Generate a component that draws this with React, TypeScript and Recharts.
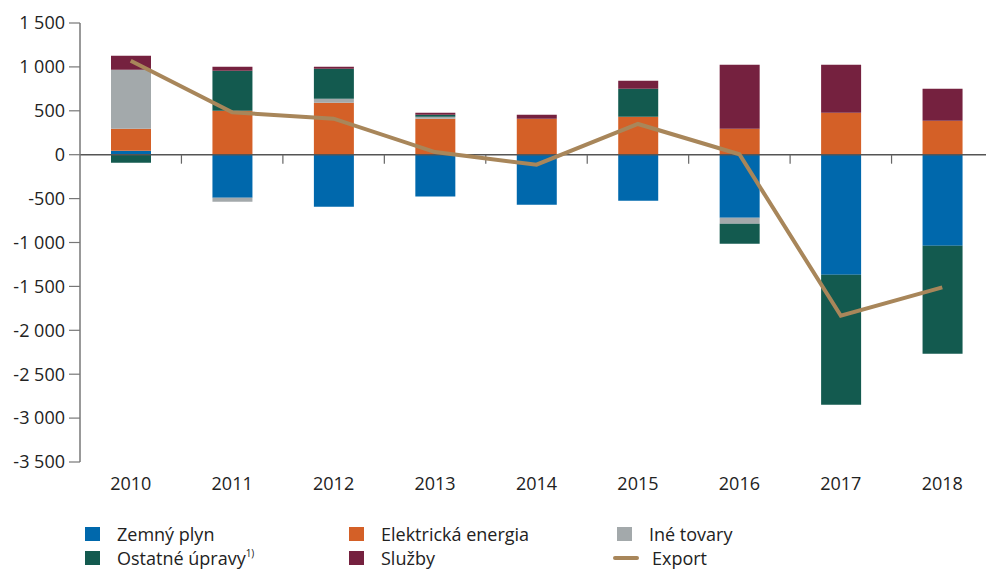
import React from 'react';
import { ComposedChart, Bar, Line, XAxis, YAxis, ReferenceLine } from 'recharts';

const years = ['2010', '2011', '2012', '2013', '2014', '2015', '2016', '2017', '2018'];
const zemnyPlyn = [45, -490, -592, -475, -569, -524, -718, -1367, -1036];
const elektrickaEnergia = [250, 500, 592, 410, 410, 433, 296, 478, 387];
const ineTovary = [672, -45, 46, 23, 0, 0, -68, 0, 0];
const ostatneUpravy = [-91, 457, 341, 23, 0, 319, -228, -1480, -1230];
const sluzby = [160, 45, 23, 22, 46, 91, 729, 547, 365];
const exportValues = [1070, 482, 410, 30, -114, 350, 5, -1834, -1511];
const yTicks = [1500, 1000, 500, 0, -500, -1000, -1500, -2000, -2500, -3000, -3500];

const colors = {
  zemny: '#0068ac',
  elektricka: '#d46027',
  ine: '#a3a9ab',
  ostatne: '#135a4f',
  sluzby: '#75213f',
  export: '#a8865a',
};

const FONT = '"Open Sans", sans-serif';

const data = years.map((year, i) => ({
  year,
  zemny: zemnyPlyn[i],
  elektricka: elektrickaEnergia[i],
  ine: ineTovary[i],
  ostatne: ostatneUpravy[i],
  sluzby: sluzby[i],
  export: exportValues[i],
}));

// thousands with a space, like "1 500" / "-3 000"
const fmt = (v: number) => {
  const s = Math.abs(v).toString().replace(/\B(?=(\d{3})+(?!\d))/g, ' ');
  return v < 0 ? '-' + s : s;
};

// zero line plus small tick marks between the categories
const ZeroLine = (props: any) => {
  const { x1, x2, y1 } = props;
  const bw = (x2 - x1) / years.length;
  return (
    <g>
      <line x1={x1} x2={x2} y1={y1} y2={y1} stroke="#555" strokeWidth={1.5} />
      {years.slice(1).map((_, i) => (
        <line key={i} x1={x1 + bw * (i + 1)} x2={x1 + bw * (i + 1)} y1={y1} y2={y1 + 9} stroke="#666" strokeWidth={1.2} />
      ))}
    </g>
  );
};

const legendItems = [
  { name: 'Zemný plyn', color: colors.zemny, kind: 'box', left: 85, top: 526 },
  { name: 'Elektrická energia', color: colors.elektricka, kind: 'box', left: 349, top: 526 },
  { name: 'Iné tovary', color: colors.ine, kind: 'box', left: 617, top: 526 },
  { name: 'Ostatné úpravy', sup: '1)', color: colors.ostatne, kind: 'box', left: 85, top: 550 },
  { name: 'Služby', color: colors.sluzby, kind: 'box', left: 349, top: 550 },
  { name: 'Export', color: colors.export, kind: 'line', left: 613, top: 550 },
];

const App = () => {
  return (
    <div style={{ position: 'absolute', left: 0, top: 0, width: 986, height: 569, overflow: 'hidden', background: '#fff' }}>
      <ComposedChart
        width={1000}
        height={569}
        data={data}
        stackOffset="sign"
        margin={{ top: 23, right: 7, bottom: 77, left: 0 }}
      >
        <XAxis
          dataKey="year"
          axisLine={false}
          tickLine={false}
          tickSize={0}
          tickMargin={15}
          height={30}
          interval={0}
          tick={{ fill: '#222', fontSize: 18, fontFamily: FONT }}
        />
        <YAxis
          domain={[-3500, 1500]}
          ticks={yTicks}
          interval={0}
          width={80}
          tickFormatter={fmt}
          tickSize={11}
          tickMargin={4}
          axisLine={{ stroke: '#777', strokeWidth: 1.5 }}
          tickLine={{ stroke: '#777', strokeWidth: 1.2 }}
          tick={{ fill: '#222', fontSize: 18, fontFamily: FONT }}
        />
        <Bar dataKey="zemny" stackId="a" fill={colors.zemny} barSize={40} isAnimationActive={false} />
        <Bar dataKey="elektricka" stackId="a" fill={colors.elektricka} barSize={40} isAnimationActive={false} />
        <Bar dataKey="ine" stackId="a" fill={colors.ine} barSize={40} isAnimationActive={false} />
        <Bar dataKey="ostatne" stackId="a" fill={colors.ostatne} barSize={40} isAnimationActive={false} />
        <Bar dataKey="sluzby" stackId="a" fill={colors.sluzby} barSize={40} isAnimationActive={false} />
        <ReferenceLine y={0} shape={ZeroLine} />
        <Line
          type="linear"
          dataKey="export"
          stroke={colors.export}
          strokeWidth={4}
          dot={false}
          isAnimationActive={false}
        />
      </ComposedChart>

      {legendItems.map((item) => (
        <div
          key={item.name}
          style={{
            position: 'absolute',
            left: item.left,
            top: item.top,
            height: 16,
            display: 'flex',
            alignItems: 'center',
            fontFamily: FONT,
            fontSize: 18,
            color: '#222',
            lineHeight: '16px',
            whiteSpace: 'nowrap',
          }}
        >
          {item.kind === 'box' ? (
            <div style={{ width: 15, height: 14, background: item.color, marginRight: 17 }} />
          ) : (
            <div style={{ width: 26, height: 4, borderRadius: 2, background: item.color, marginRight: 13 }} />
          )}
          <span>
            {item.name}
            {item.sup && <sup style={{ fontSize: 10, lineHeight: '10px', verticalAlign: 'top', position: 'relative', top: -2 }}>{item.sup}</sup>}
          </span>
        </div>
      ))}
    </div>
  );
};

export default App;
